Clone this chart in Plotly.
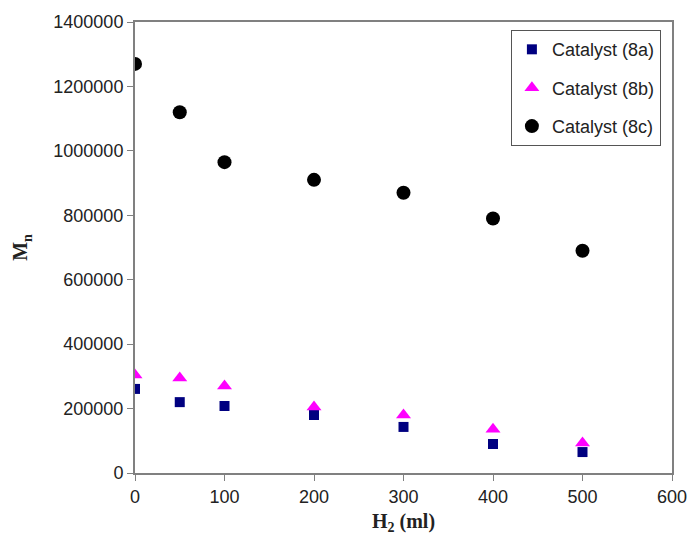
import plotly.graph_objects as go

h2 = [0, 50, 100, 200, 300, 400, 500]
cat_8a = [261000, 220000, 208000, 180000, 143000, 90000, 65000]
cat_8b = [304000, 295000, 270000, 205000, 180000, 136000, 93000]
cat_8c = [1270000, 1120000, 965000, 910000, 870000, 790000, 690000]

x_ticks = [0, 100, 200, 300, 400, 500, 600]
y_ticks = [0, 200000, 400000, 600000, 800000, 1000000, 1200000, 1400000]

fig = go.Figure()
fig.add_trace(go.Scatter(x=h2, y=cat_8a, mode="markers", name="Catalyst (8a)",
                         legendgroup="a",
                         marker=dict(symbol="square", size=10, color="#000080",
                                     line=dict(width=0))))
fig.add_trace(go.Scatter(x=h2, y=cat_8b, mode="markers", name="Catalyst (8b)",
                         legendgroup="b",
                         marker=dict(symbol="triangle-up", size=13, color="#FF00FF",
                                     line=dict(width=0))))
fig.add_trace(go.Scatter(x=h2, y=cat_8c, mode="markers", name="Catalyst (8c)",
                         legendgroup="c",
                         marker=dict(symbol="circle", size=14, color="#000000",
                                     line=dict(width=0))))

axis_common = dict(showline=True, linecolor="#808080", linewidth=2, mirror=True,
                   ticks="outside", ticklen=6, tickcolor="#808080", tickwidth=1,
                   showgrid=False, zeroline=False, automargin=False,
                   tickfont=dict(family="Liberation Sans, Arial", size=18, color="#222"))

fig.update_layout(
    width=694, height=535,
    margin=dict(l=135, r=22, t=22, b=62),
    paper_bgcolor="white", plot_bgcolor="white",
    xaxis=dict(range=[0, 600], tickvals=x_ticks, ticktext=[str(v) for v in x_ticks],
               title=dict(text="<b>H<sub>2</sub> (ml)</b>", standoff=12,
                          font=dict(family="Liberation Serif, Times New Roman", size=20, color="#222")),
               **axis_common),
    yaxis=dict(range=[0, 1400000], tickvals=y_ticks, ticktext=[str(v) for v in y_ticks],
               title=dict(text="<b>M<sub>n</sub></b>", standoff=20,
                          font=dict(family="Liberation Serif, Times New Roman", size=20, color="#222")),
               **axis_common),
    legend=dict(x=0.7, y=0.982, xanchor="left", yanchor="top",
                bordercolor="#555", borderwidth=1, bgcolor="white",
                traceorder="grouped", tracegroupgap=12,
                font=dict(family="Liberation Sans, Arial", size=18, color="#222")),
    showlegend=True,
)

fig.write_html("out.html")
